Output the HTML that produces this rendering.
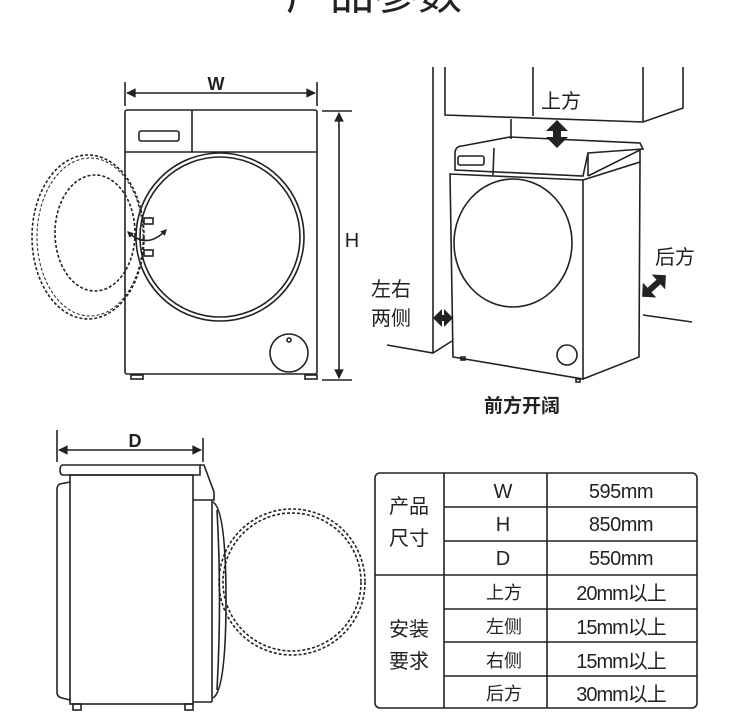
<!DOCTYPE html>
<html><head><meta charset="utf-8"><style>
html,body{margin:0;padding:0;background:#fff;width:750px;height:714px;overflow:hidden}
svg{display:block}
text{font-family:"Liberation Sans","Noto Sans CJK SC",sans-serif;fill:#222}
</style></head><body>
<svg width="750" height="714" viewBox="0 0 750 714" xmlns="http://www.w3.org/2000/svg">
<defs>
<marker id="a" viewBox="0 0 10 10" refX="9" refY="5" markerWidth="8" markerHeight="6" orient="auto-start-reverse"><path d="M0,0 L10,5 L0,10 z" fill="#222"/></marker>
<marker id="b" viewBox="0 0 10 10" refX="8" refY="5" markerWidth="4" markerHeight="4" orient="auto-start-reverse"><path d="M0,0 L10,5 L0,10 z" fill="#222"/></marker>
</defs>
<text x="374" y="9" font-size="44" text-anchor="middle">产品参数</text>
<g fill="none" stroke="#222" stroke-width="1.6">
<line x1="125" y1="82" x2="125" y2="106"/><line x1="317" y1="82" x2="317" y2="106"/>
<line x1="127" y1="93" x2="315" y2="93" marker-start="url(#a)" marker-end="url(#a)"/>
<rect x="125" y="110" width="192" height="264" rx="2"/>
<line x1="125" y1="152" x2="317" y2="152"/><line x1="192" y1="110" x2="192" y2="152"/>
<rect x="139" y="131" width="40" height="10" rx="2"/>
<circle cx="220" cy="237" r="84"/><circle cx="220" cy="237" r="80"/>
<ellipse cx="88" cy="237" rx="56" ry="82" stroke-dasharray="3,2"/>
<ellipse cx="90" cy="237" rx="53" ry="79" stroke-dasharray="3,2" stroke-width="1"/>
<ellipse cx="95" cy="233" rx="40" ry="58" stroke-dasharray="3,2"/>
<rect x="144" y="218" width="9" height="6"/><rect x="144" y="250" width="9" height="6"/>
<path d="M128,232 Q147,250 166,230" marker-start="url(#b)" marker-end="url(#b)"/>
<circle cx="289" cy="353" r="19"/><circle cx="289" cy="340" r="2"/>
<rect x="131" y="375" width="12" height="4"/><rect x="305" y="375" width="12" height="4"/>
<line x1="322" y1="111" x2="352" y2="111"/><line x1="322" y1="380" x2="352" y2="380"/>
<line x1="339" y1="113" x2="339" y2="378" marker-start="url(#a)" marker-end="url(#a)"/>
<line x1="433" y1="67" x2="433" y2="353"/>
<polyline points="445,67 445,115 643,122 683,108 683,67"/>
<line x1="533" y1="67" x2="533" y2="116"/><line x1="643" y1="67" x2="643" y2="122"/>
<line x1="511" y1="119" x2="511" y2="139"/>
<polyline points="387,345 433,353 452,341"/>
<line x1="643" y1="315" x2="692" y2="322"/>
<path d="M455,170 L455,152 Q456,146 462,146 L510,137 L640,143 L643,149 L588,153 L583,176 Z"/>
<line x1="588" y1="153" x2="588" y2="176"/>
<line x1="494" y1="148" x2="493" y2="175"/>
<rect x="458" y="156" width="26" height="9" rx="2"/>
<path d="M450,174 L583,180 L583,379 L453,357 Z"/>
<path d="M583,180 L640,162 L639,357 L583,379"/>
<line x1="588" y1="176" x2="640" y2="150"/><line x1="640" y1="150" x2="640" y2="162"/>
<ellipse cx="513" cy="243" rx="59" ry="64"/>
<circle cx="567" cy="355" r="10"/>
<rect x="461" y="357" width="4" height="3"/><rect x="576" y="379" width="4" height="3"/>
</g>
<g fill="#222">
<polygon points="557,120 568,131 561,131 561,137 568,137 557,148 546,137 553,137 553,131 546,131"/>
<polygon points="433,318 442,309 442,315 444,315 444,309 453,318 444,327 444,321 442,321 442,327"/>
<g transform="rotate(-42 654 286)"><polygon points="638,286 648,276 648,283 660,283 660,276 670,286 660,296 660,289 648,289 648,296"/></g>
</g>
<text x="541" y="108" font-size="20">上方</text>
<text x="655" y="264" font-size="20">后方</text>
<text x="371" y="296" font-size="20">左右</text>
<text x="371" y="325" font-size="20">两侧</text>
<text x="522" y="412" font-size="19" font-weight="bold" text-anchor="middle">前方开阔</text>
<text x="216" y="90" font-size="18" font-weight="bold" text-anchor="middle">W</text>
<text x="352" y="247" font-size="20" text-anchor="middle">H</text>
<text x="135" y="447" font-size="18" font-weight="bold" text-anchor="middle">D</text>
<g fill="none" stroke="#222" stroke-width="1.6">
<line x1="57" y1="430" x2="57" y2="462"/><line x1="203" y1="438" x2="203" y2="462"/>
<line x1="59" y1="450" x2="201" y2="450" marker-start="url(#a)" marker-end="url(#a)"/>
<path d="M63,465 L200,465 L200,475 L63,475 Q60,475 60,470 Q60,465 63,465 Z"/>
<path d="M200,465 L204,465 L214,492 L214,500 L193,500"/>
<rect x="70" y="475" width="123" height="229"/>
<path d="M70,482 L60,484 Q57,485 57,490 L57,692 Q57,697 62,698 L70,700"/>
<line x1="212" y1="500" x2="212" y2="702"/><line x1="193" y1="702" x2="212" y2="702"/>
<path d="M213,502 Q226,510 226,600 Q226,690 213,698"/>
<path d="M217,510 Q222,600 217,690"/>
<circle cx="292" cy="582" r="73" stroke-dasharray="3,2"/>
<circle cx="292" cy="582" r="69" stroke-dasharray="3,2"/>
<rect x="73" y="704" width="8" height="6"/><rect x="185" y="704" width="8" height="6"/>
</g>
<g fill="none" stroke="#222" stroke-width="1.6">
<rect x="375" y="473" width="322" height="235" rx="5"/>
<line x1="444" y1="473" x2="444" y2="708"/><line x1="547" y1="473" x2="547" y2="708"/>
<line x1="375" y1="575" x2="697" y2="575"/>
<line x1="444" y1="507" x2="697" y2="507"/><line x1="444" y1="541" x2="697" y2="541"/>
<line x1="444" y1="609" x2="697" y2="609"/><line x1="444" y1="642" x2="697" y2="642"/>
<line x1="444" y1="676" x2="697" y2="676"/>
</g>
<g font-size="20" text-anchor="middle">
<text x="409" y="513">产品</text><text x="409" y="545">尺寸</text>
<text x="409" y="636">安装</text><text x="409" y="668">要求</text>
<text x="503" y="498">W</text><text x="503" y="531">H</text><text x="503" y="565">D</text>
<text x="621" y="498" letter-spacing="-0.5">595mm</text><text x="621" y="531" letter-spacing="-0.5">850mm</text><text x="621" y="565" letter-spacing="-0.5">550mm</text>
</g>
<g font-size="18" text-anchor="middle">
<text x="504" y="599">上方</text><text x="504" y="633">左侧</text><text x="504" y="667">右侧</text><text x="504" y="700">后方</text>
</g>
<g font-size="20" text-anchor="middle" letter-spacing="-1">
<text x="621" y="600">20mm以上</text><text x="621" y="634">15mm以上</text><text x="621" y="668">15mm以上</text><text x="621" y="701">30mm以上</text>
</g>
</svg>
</body></html>
